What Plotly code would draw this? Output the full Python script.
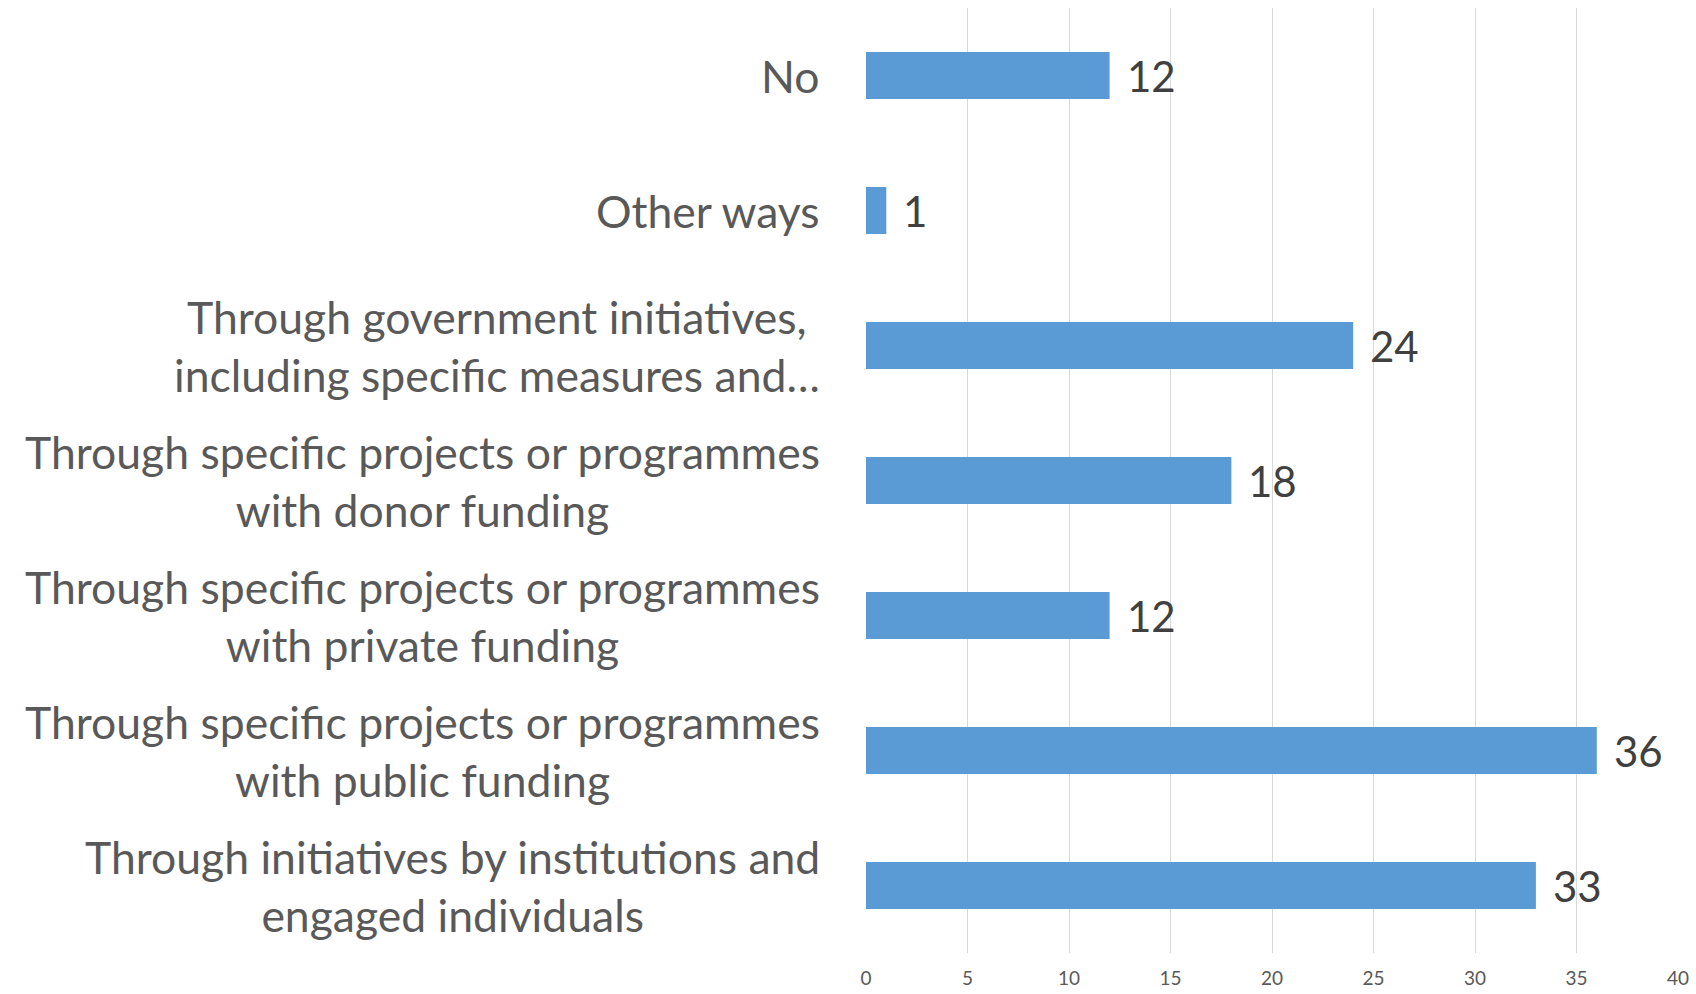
import plotly.graph_objects as go

# Survey responses, bottom to top as drawn
categories = [
    "Through initiatives by institutions and<br>engaged individuals",
    "Through specific projects or programmes<br>with public funding",
    "Through specific projects or programmes<br>with private funding",
    "Through specific projects or programmes<br>with donor funding",
    "Through government initiatives,<br>including specific measures and…",
    "Other ways",
    "No",
]
values = [33, 36, 12, 18, 24, 1, 12]
x_ticks = [0, 5, 10, 15, 20, 25, 30, 35, 40]

BAR_COLOR = "#5B9BD5"
GRID_COLOR = "#D9D9D9"
FONT = "Lato"

fig = go.Figure(
    go.Bar(
        x=values,
        y=categories,
        orientation="h",
        marker=dict(color=BAR_COLOR, line=dict(width=0)),
        hoverinfo="x+y",
    )
)

annotations = []
# Category labels, centred lines, right edge offset from the axis
for cat in categories:
    annotations.append(dict(
        x=0, xref="paper", y=cat, yref="y",
        text=cat, showarrow=False,
        xanchor="right", yanchor="middle", align="center",
        xshift=-44,
        font=dict(family=FONT, size=44.5, color="#595959"),
    ))
# Value labels just past the bar ends
for cat, v in zip(categories, values):
    annotations.append(dict(
        x=v, xref="x", y=cat, yref="y",
        text=str(v), showarrow=False,
        xanchor="left", yanchor="middle",
        xshift=15,
        font=dict(family=FONT, size=42, color="#404040"),
    ))

fig.update_layout(
    width=1696, height=994,
    margin=dict(l=866, r=18, t=8, b=41, autoexpand=False),
    paper_bgcolor="white", plot_bgcolor="white",
    bargap=0.652,
    showlegend=False,
    annotations=annotations,
    xaxis=dict(
        range=[0, 40],
        tickvals=x_ticks,
        showgrid=True, gridcolor=GRID_COLOR, gridwidth=1.4,
        zeroline=False, showline=False,
        ticks="",
        tickfont=dict(family=FONT, size=19, color="#595959"),
        ticklabelstandoff=12,
        automargin=False,
        fixedrange=True,
    ),
    yaxis=dict(
        showticklabels=False,
        showgrid=False, zeroline=False, showline=False, ticks="",
        automargin=False,
        fixedrange=True,
    ),
)

fig.write_html("out.html")
